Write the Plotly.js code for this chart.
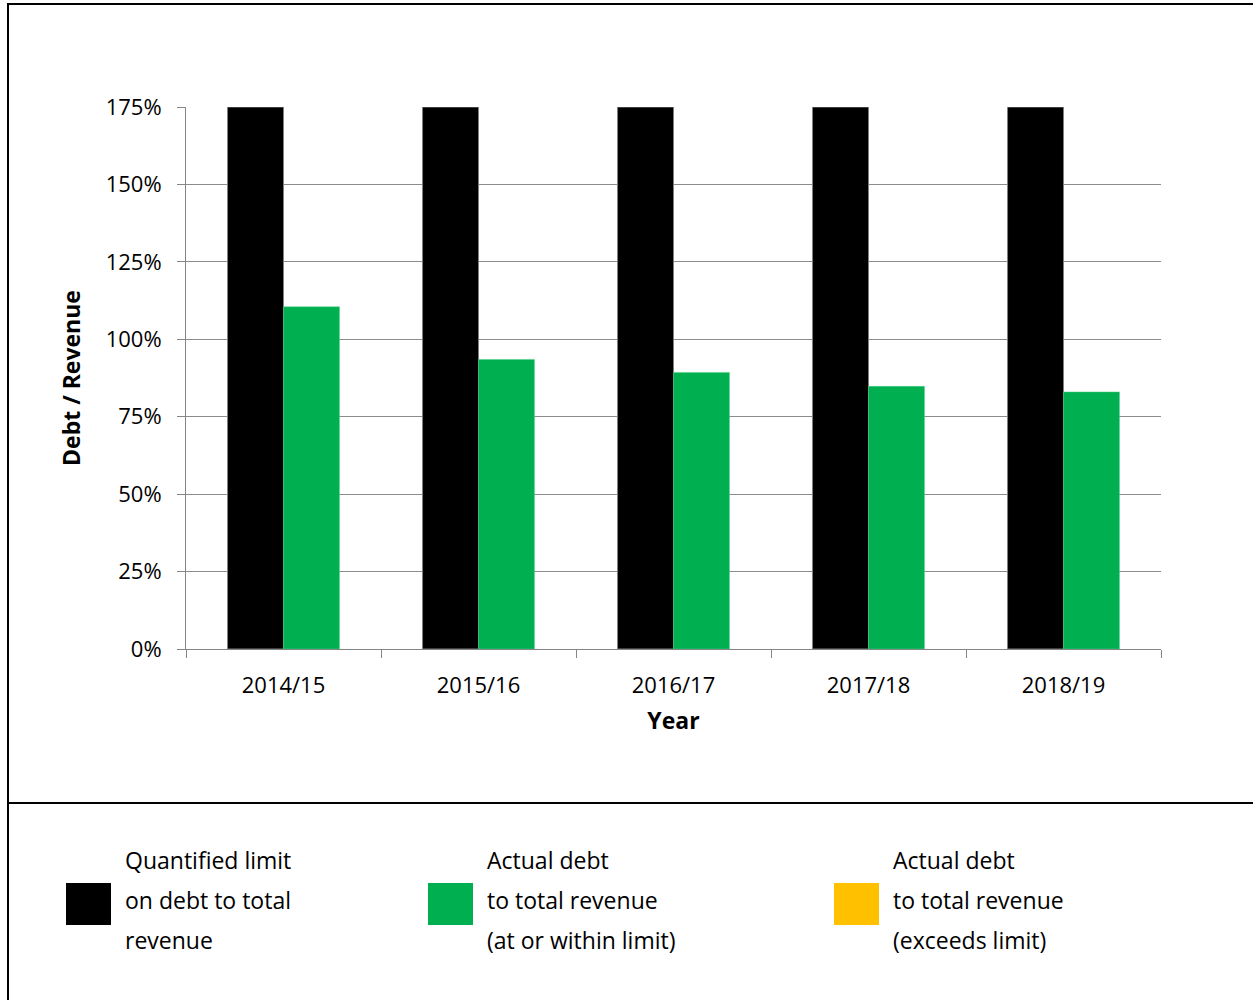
<!DOCTYPE html>
<html>
<head>
<meta charset="utf-8">
<script src="https://cdn.plot.ly/plotly-3.0.1.min.js"></script>
<style>html,body{margin:0;padding:0;background:#fff;}#chart{width:1253px;height:1000px;}</style>
</head>
<body>
<div id="chart"></div>
<script>
const years = ["2014/15", "2015/16", "2016/17", "2017/18", "2018/19"];
const limitValues = [175, 175, 175, 175, 175];
const actualValues = [110.5, 93.5, 89.3, 84.8, 83.0];
const yTickValues = [0, 25, 50, 75, 100, 125, 150, 175];
const legendLabels = [
  ["Quantified limit", "on debt to total", "revenue"],
  ["Actual debt", "to total revenue", "(at or within limit)"],
  ["Actual debt", "to total revenue", "(exceeds limit)"]
];
const colLimit = "#000000";
const colWithin = "#00b050";
const colExceeds = "#ffc000";
const legendColors = [colLimit, colWithin, colExceeds];

const FONT = "Open Sans, Lato, sans-serif";
const W = 1253, H = 1000;
const plotL = 186, plotR = 1161, plotT = 107, plotB = 649;
const px = x => (x - plotL) / (plotR - plotL);
const py = y => (plotB - y) / (plotB - plotT);

const actualColors = actualValues.map((v, i) => v <= limitValues[i] ? colWithin : colExceeds);

const traces = [
  {
    type: "bar", x: years, y: limitValues, name: legendLabels[0].join(" "),
    marker: {color: colLimit, line: {color: "#7f7f7f", width: 1}},
    hoverinfo: "x+y"
  },
  {
    type: "bar", x: years, y: actualValues, name: legendLabels[1].join(" "),
    marker: {color: actualColors, line: {color: "#4fd08a", width: 0.5}},
    hoverinfo: "x+y"
  }
];

const shapes = [
  {type: "rect", xref: "paper", yref: "paper", x0: px(8), x1: px(1256), y0: py(4), y1: py(1003),
   line: {color: "#000", width: 2}, fillcolor: "rgba(0,0,0,0)"},
  {type: "line", xref: "paper", yref: "paper", x0: px(8), x1: px(1256), y0: py(803), y1: py(803),
   line: {color: "#000", width: 2}}
];
const annotations = [];
const legendX = [66, 428, 834];
legendLabels.forEach((lines, i) => {
  shapes.push({type: "rect", xref: "paper", yref: "paper",
    x0: px(legendX[i]), x1: px(legendX[i] + 45), y0: py(883), y1: py(925),
    line: {width: 0}, fillcolor: legendColors[i]});
  lines.forEach((t, j) => {
    annotations.push({xref: "paper", yref: "paper", x: px(legendX[i] + 57), y: py(860 + j * 40),
      xanchor: "left", yanchor: "middle", showarrow: false, text: t,
      font: {family: FONT, size: 23, color: "#000"}});
  });
});

const layout = {
  width: W, height: H,
  margin: {l: plotL, r: W - plotR, t: plotT, b: H - plotB, pad: 0},
  paper_bgcolor: "#fff", plot_bgcolor: "#fff",
  showlegend: false,
  barmode: "group", bargap: 0.426, bargroupgap: 0,
  font: {family: FONT, color: "#000"},
  xaxis: {
    type: "category", showline: true, linecolor: "#868686", linewidth: 1,
    ticks: "outside", tickson: "boundaries", ticklen: 8, tickcolor: "#868686",
    tickfont: {family: FONT, size: 22, color: "#000"}, ticklabelstandoff: 17,
    title: {text: "<b>Year</b>", font: {family: FONT, size: 23, color: "#000"}, standoff: 14},
    showgrid: false
  },
  yaxis: {
    range: [0, 175], tickvals: yTickValues, ticktext: yTickValues.map(v => v + "%"),
    showline: true, linecolor: "#868686", linewidth: 1,
    ticks: "outside", ticklen: 8, tickcolor: "#868686",
    tickfont: {family: FONT, size: 22, color: "#000"}, ticklabelstandoff: 11,
    showgrid: true, gridcolor: "#8c8c8c", gridwidth: 1, zeroline: false,
    title: {text: "<b>Debt / Revenue</b>", font: {family: FONT, size: 23, color: "#000"}, standoff: 18}
  },
  shapes: shapes,
  annotations: annotations
};

Plotly.newPlot("chart", traces, layout, {displayModeBar: false, staticPlot: true});
</script>
</body>
</html>
